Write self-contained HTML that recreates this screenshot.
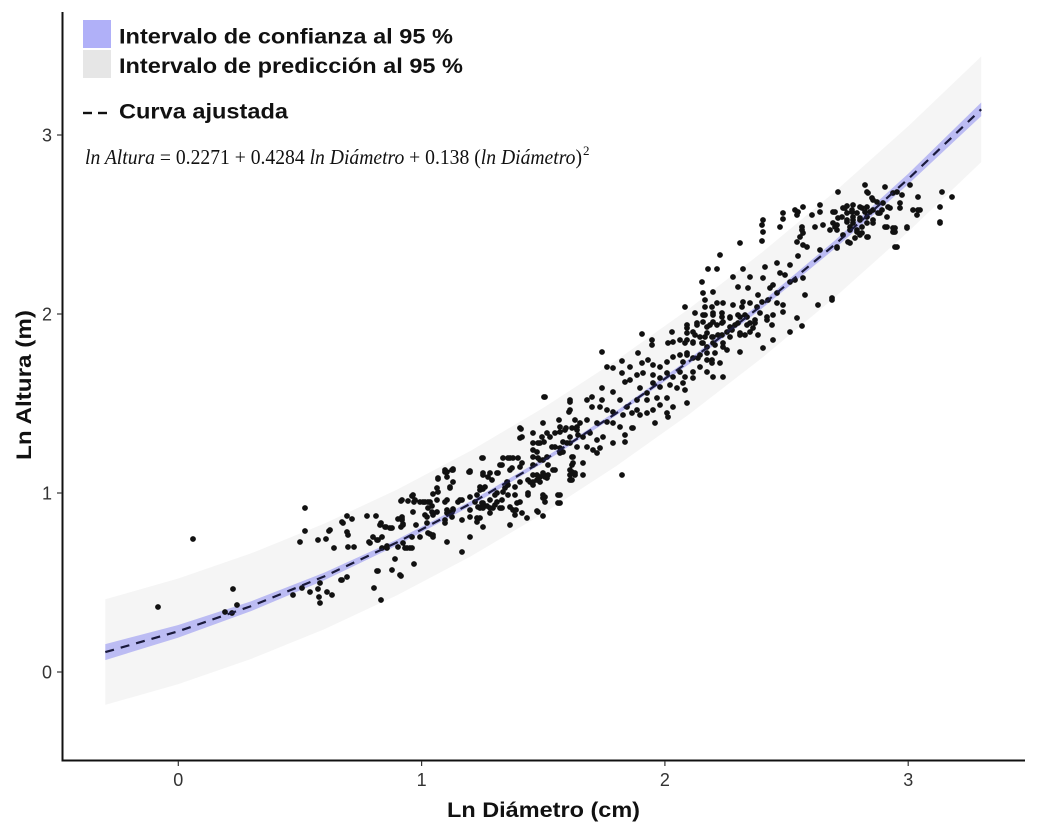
<!DOCTYPE html>
<html><head><meta charset="utf-8">
<style>html,body{margin:0;padding:0;background:#fff;}svg{display:block}</style>
</head><body>
<svg width="1037" height="832" viewBox="0 0 1037 832" xmlns="http://www.w3.org/2000/svg">
<rect width="1037" height="832" fill="#fff"/>
<!-- prediction band -->
<path fill="#f5f5f5" d="M105.3,599.3 L178.3,578.5 L251.3,553.3 L324.3,523.6 L397.3,489.5 L470.3,451.0 L543.3,407.9 L616.2,360.5 L689.2,308.6 L762.2,252.2 L835.2,191.4 L908.2,126.2 L981.2,56.5 L981.2,162.1 L908.2,231.8 L835.2,297.0 L762.2,357.8 L689.2,414.2 L616.2,466.1 L543.3,513.5 L470.3,556.6 L397.3,595.1 L324.3,629.2 L251.3,658.9 L178.3,684.1 L105.3,704.9 Z"/>
<!-- confidence band -->
<path fill="#bcbcf3" d="M105.3,644.1 L178.3,625.0 L251.3,601.2 L324.3,572.6 L397.3,539.4 L470.3,501.4 L543.3,458.5 L616.2,411.1 L689.2,358.9 L762.2,301.8 L835.2,240.1 L908.2,173.7 L981.2,102.5 L981.2,116.1 L908.2,184.3 L835.2,248.3 L762.2,308.2 L689.2,364.0 L616.2,415.5 L543.3,462.9 L470.3,506.2 L397.3,545.2 L324.3,580.2 L251.3,611.0 L178.3,637.6 L105.3,660.1 Z"/>
<!-- points -->
<path fill="none" stroke="#111" stroke-width="5.8" stroke-linecap="round" d="
M158 607h0M193 539h0M233 589h0M237 605h0M225 612h0M232 613h0
M305 508h0M305 531h0M300 542h0M318 540h0M326 539h0M329 531h0M334 548h0M343 523h0M347 516h0M352 519h0M347 532h0M348 535h0M348 547h0M354 547h0
M367 516h0M376 516h0M381 523h0M386 527h0M392 528h0M402 519h0M403 524h0M401 527h0M373 537h0M369 542h0M378 540h0M382 548h0M387 546h0M403 543h0M410 548h0M405 548h0
M395 559h0M392 570h0M401 576h0M414 564h0M378 571h0M374 588h0M381 600h0M347 577h0M341 580h0M320 583h0M318 589h0M310 592h0M327 592h0M332 595h0M319 597h0M320 603h0M302 588h0M293 595h0M377 571h0M400 575h0M342 580h0
M370 543h0M377 540h0M382 537h0M387 548h0M398 547h0M380 525h0M385 527h0M390 528h0M402 520h0M342 522h0M330 530h0
M401 501h0M412 496h0M414 502h0M420 502h0M425 502h0M430 502h0M433 494h0M438 478h0M445 472h0M452 470h0M447 477h0M450 488h0M437 488h0M445 502h0M458 502h0M462 500h0
M413 512h0M428 508h0M432 512h0M433 515h0M425 515h0M427 523h0M428 533h0M433 535h0M420 537h0M447 510h0M452 512h0M445 523h0M447 542h0M462 520h0M470 537h0M462 552h0
M469 472h0M483 458h0M483 475h0M488 477h0M497 473h0M480 487h0M483 489h0M477 495h0M483 503h0M490 508h0M497 502h0M480 508h0M480 518h0M477 522h0M483 527h0M470 510h0
M438 479h0M453 469h0M438 492h0M437 500h0M413 495h0M415 500h0M402 500h0M408 501h0M423 502h0M428 502h0M432 506h0M427 517h0M433 515h0M437 512h0
M416 525h0M402 517h0M398 519h0M403 525h0M412 537h0M407 548h0M412 548h0M430 534h0M433 537h0M445 520h0M447 513h0M453 509h0M452 517h0M460 500h0M462 520h0
M470 471h0M482 458h0M498 473h0M502 465h0M503 458h0M508 458h0M513 458h0M518 458h0M510 470h0M520 467h0
M482 503h0M487 506h0M495 495h0M493 508h0M503 492h0M508 485h0M515 487h0M508 495h0M500 508h0M510 507h0M516 510h0M515 515h0M520 502h0
M470 517h0M483 527h0M477 518h0M510 525h0M527 518h0M537 511h0M543 516h0M543 498h0M543 495h0M528 495h0M560 495h0M560 503h0
M520 438h0M521 429h0M533 433h0M543 423h0M544 397h0M559 420h0M570 402h0M569 412h0
M533 443h0M533 450h0M538 443h0M544 442h0M550 437h0M555 433h0M560 432h0M566 428h0M572 428h0M577 427h0M575 420h0M563 442h0M570 443h0M578 435h0
M555 447h0M560 453h0M563 452h0M538 458h0M543 460h0M548 465h0M533 465h0M533 475h0M540 477h0M545 477h0M548 475h0M555 470h0M528 480h0M533 482h0M537 480h0
M572 457h0M572 465h0M572 472h0M572 480h0M575 475h0
M685 307h0M705 307h0M717 303h0M733 305h0M743 302h0M705 315h0M713 315h0M722 313h0M730 318h0M740 317h0M745 315h0M750 323h0M755 320h0
M697 325h0M703 322h0M710 325h0M717 325h0M723 322h0M735 325h0M740 333h0M745 335h0M753 328h0
M687 328h0M693 332h0M700 337h0M707 333h0M712 337h0M718 335h0M727 332h0M732 330h0M672 332h0M642 334h0M652 340h0M652 345h0
M668 343h0M673 342h0M680 340h0M687 340h0M693 343h0M702 343h0M707 347h0M713 343h0M723 347h0M727 350h0M740 352h0M715 353h0
M602 352h0M622 361h0M638 353h0M642 363h0M648 360h0M653 365h0M660 367h0M667 362h0M673 357h0M680 355h0M687 353h0M693 358h0M700 355h0M707 360h0M712 363h0
M613 368h0M607 367h0M622 373h0M630 367h0M630 380h0M637 375h0M643 373h0M653 375h0M660 378h0M667 373h0M673 377h0M680 372h0M685 377h0M693 372h0M700 367h0M707 372h0M713 377h0M723 377h0M693 378h0
M602 388h0M613 392h0M625 382h0M640 388h0M647 393h0M653 383h0M660 387h0M670 385h0M677 388h0M685 390h0M683 383h0
M592 397h0M602 400h0M620 400h0M627 407h0M637 400h0M647 400h0M657 398h0M667 398h0M673 407h0M687 403h0M660 405h0M653 410h0M647 413h0M667 413h0M668 417h0M655 423h0
M587 400h0M592 407h0M600 407h0M607 410h0M613 412h0M623 415h0M632 413h0M637 410h0M640 415h0
M570 400h0M570 410h0M575 420h0M580 423h0M587 420h0M597 423h0M607 422h0M613 423h0M620 427h0M632 428h0M625 435h0
M545 397h0M520 428h0M522 437h0M533 433h0M542 437h0M547 433h0M555 433h0M560 427h0M565 430h0M570 437h0M577 430h0M583 437h0M590 433h0M597 440h0M603 437h0M613 443h0M625 442h0M633 428h0
M533 443h0M540 443h0M552 447h0M560 448h0M567 443h0M577 447h0M587 447h0M593 450h0M600 448h0M597 453h0
M483 458h0M503 458h0M510 458h0M518 458h0M522 463h0M500 465h0M512 468h0M490 473h0M483 473h0M470 472h0M453 470h0M445 470h0
M537 452h0M533 457h0M540 460h0M547 457h0M553 470h0M543 473h0M537 475h0M530 482h0M533 485h0M540 482h0M547 478h0
M573 457h0M573 463h0M583 463h0M570 470h0M570 475h0M575 473h0M570 480h0M583 475h0M622 475h0
M507 482h0M520 482h0M528 493h0M515 495h0M505 488h0M492 480h0M485 487h0M480 490h0M490 500h0M497 493h0M502 500h0M517 503h0M520 502h0M513 510h0M522 513h0
M545 497h0M545 502h0M558 495h0M558 503h0M538 512h0
M447 472h0M453 482h0M450 487h0M447 500h0M460 500h0M453 510h0M470 497h0M475 502h0M478 507h0M483 508h0M490 513h0M495 505h0M502 508h0
M865 185h0M885 187h0M910 185h0M942 192h0M952 197h0M838 192h0
M868 193h0M872 198h0M893 193h0M902 195h0M918 197h0M900 203h0M900 208h0M890 208h0M883 203h0M877 202h0
M847 206h0M853 205h0M860 207h0M867 207h0M873 210h0M880 213h0M887 217h0M865 212h0M852 212h0M845 208h0M835 212h0M842 217h0M847 222h0M853 220h0M860 218h0M867 223h0M873 223h0
M850 227h0M857 230h0M862 233h0M868 237h0M855 238h0M848 242h0M862 227h0M837 225h0M837 230h0M837 247h0
M913 210h0M918 210h0M917 215h0M940 207h0M940 222h0M885 227h0M893 228h0M893 232h0M907 228h0M895 247h0
M820 205h0M820 212h0M812 215h0M803 207h0M798 212h0M797 215h0M795 210h0M783 213h0M783 219h0M780 227h0M815 227h0M823 225h0M833 223h0M830 230h0
M802 227h0M802 230h0M803 233h0M800 237h0M797 242h0M803 245h0M807 247h0M763 220h0M762 225h0M763 232h0M762 241h0M740 243h0
M820 250h0M798 256h0M720 255h0M777 263h0M790 265h0M708 269h0M717 269h0M743 269h0M765 267h0M780 273h0
M733 277h0M750 277h0M763 278h0M773 285h0M785 275h0M790 282h0M795 280h0M803 278h0
M702 282h0M703 293h0M713 292h0M738 287h0M748 288h0M758 295h0M770 288h0M777 293h0M768 300h0M762 302h0M777 303h0M783 305h0M805 295h0M818 305h0M832 300h0
M685 307h0M705 300h0M712 307h0M723 303h0M733 305h0M742 307h0M750 303h0M757 307h0M695 313h0M703 315h0M713 313h0M722 317h0M730 317h0M738 315h0M747 317h0M760 313h0M767 317h0M773 315h0M783 312h0
M687 325h0M697 323h0M707 327h0M713 322h0M722 323h0M730 327h0M738 323h0M747 325h0M755 323h0M767 320h0M772 325h0M797 318h0M802 326h0M790 332h0
M687 333h0M695 335h0M705 337h0M713 337h0M722 335h0M730 337h0M740 335h0M750 332h0M758 335h0M685 343h0M693 342h0M703 343h0M723 343h0M715 345h0M740 352h0M763 348h0M773 340h0
M687 355h0M698 358h0M707 353h0M712 360h0M720 363h0M700 367h0M683 362h0
M833 212h0M838 218h0M835 227h0M843 208h0M847 213h0M852 210h0M857 213h0M862 208h0M870 212h0M878 213h0M882 210h0M847 220h0M853 217h0M860 220h0M867 217h0M873 220h0
M853 223h0M850 230h0M857 232h0M860 235h0M867 237h0M843 235h0M837 248h0M850 243h0M887 227h0M895 228h0M895 232h0M907 227h0M897 247h0M832 298h0
M888 207h0M913 210h0M920 210h0M917 215h0M940 223h0M897 192h0M867 192h0M873 200h0
"/>
<!-- fitted curve -->
<path fill="none" stroke="#1a1a3c" stroke-width="2.2" stroke-dasharray="9,7" d="M105.3,652.1 L178.3,631.3 L251.3,606.1 L324.3,576.4 L397.3,542.3 L470.3,503.8 L543.3,460.7 L616.2,413.3 L689.2,361.4 L762.2,305.0 L835.2,244.2 L908.2,179.0 L981.2,109.3"/>

<!-- axes -->
<line x1="62.5" y1="12" x2="62.5" y2="761.5" stroke="#111" stroke-width="2"/>
<line x1="61.5" y1="760.5" x2="1025" y2="760.5" stroke="#111" stroke-width="2"/>
<g stroke="#333" stroke-width="1.2">
<line x1="178.3" y1="761" x2="178.3" y2="766"/>
<line x1="421.6" y1="761" x2="421.6" y2="766"/>
<line x1="664.9" y1="761" x2="664.9" y2="766"/>
<line x1="908.2" y1="761" x2="908.2" y2="766"/>
<line x1="57" y1="672" x2="62" y2="672"/>
<line x1="57" y1="493" x2="62" y2="493"/>
<line x1="57" y1="314" x2="62" y2="314"/>
<line x1="57" y1="135" x2="62" y2="135"/>
</g>
<g font-family="Liberation Sans, Arial, sans-serif" font-size="18" fill="#333">
<text x="178.3" y="786" text-anchor="middle">0</text>
<text x="421.6" y="786" text-anchor="middle">1</text>
<text x="664.9" y="786" text-anchor="middle">2</text>
<text x="908.2" y="786" text-anchor="middle">3</text>
<text x="52" y="678.5" text-anchor="end">0</text>
<text x="52" y="499.5" text-anchor="end">1</text>
<text x="52" y="320.5" text-anchor="end">2</text>
<text x="52" y="141.5" text-anchor="end">3</text>
</g>
<g font-family="Liberation Sans, Arial, sans-serif" font-weight="bold" fill="#111">
<text x="447" y="817" font-size="21" textLength="193" lengthAdjust="spacingAndGlyphs">Ln Diámetro (cm)</text>
<text transform="translate(31,460) rotate(-90)" x="0" y="0" font-size="21" textLength="150" lengthAdjust="spacingAndGlyphs">Ln Altura (m)</text>
</g>

<!-- legend -->
<rect x="83" y="20" width="28" height="28" fill="#b0b0f8"/>
<rect x="83" y="50" width="28" height="28" fill="#e6e6e6"/>
<line x1="83" y1="113" x2="92" y2="113" stroke="#111" stroke-width="2.4"/>
<line x1="98" y1="113" x2="107" y2="113" stroke="#111" stroke-width="2.4"/>
<g font-family="Liberation Sans, Arial, sans-serif" font-weight="bold" font-size="21" fill="#111">
<text x="119" y="43.5" textLength="334" lengthAdjust="spacingAndGlyphs">Intervalo de confianza al 95 %</text>
<text x="119" y="73" textLength="344" lengthAdjust="spacingAndGlyphs">Intervalo de predicción al 95 %</text>
<text x="119" y="118.5" textLength="169" lengthAdjust="spacingAndGlyphs">Curva ajustada</text>
</g>
<text x="85" y="164" font-family="Liberation Serif, 'Times New Roman', serif" font-size="21" fill="#111" textLength="497" lengthAdjust="spacingAndGlyphs"><tspan font-style="italic">ln Altura</tspan>  = 0.2271 + 0.4284 <tspan font-style="italic">ln Diámetro</tspan> + 0.138 (<tspan font-style="italic">ln Diámetro</tspan>)</text>
<text x="583" y="155" font-family="Liberation Serif, 'Times New Roman', serif" font-size="13" fill="#111">2</text>
</svg>
</body></html>
